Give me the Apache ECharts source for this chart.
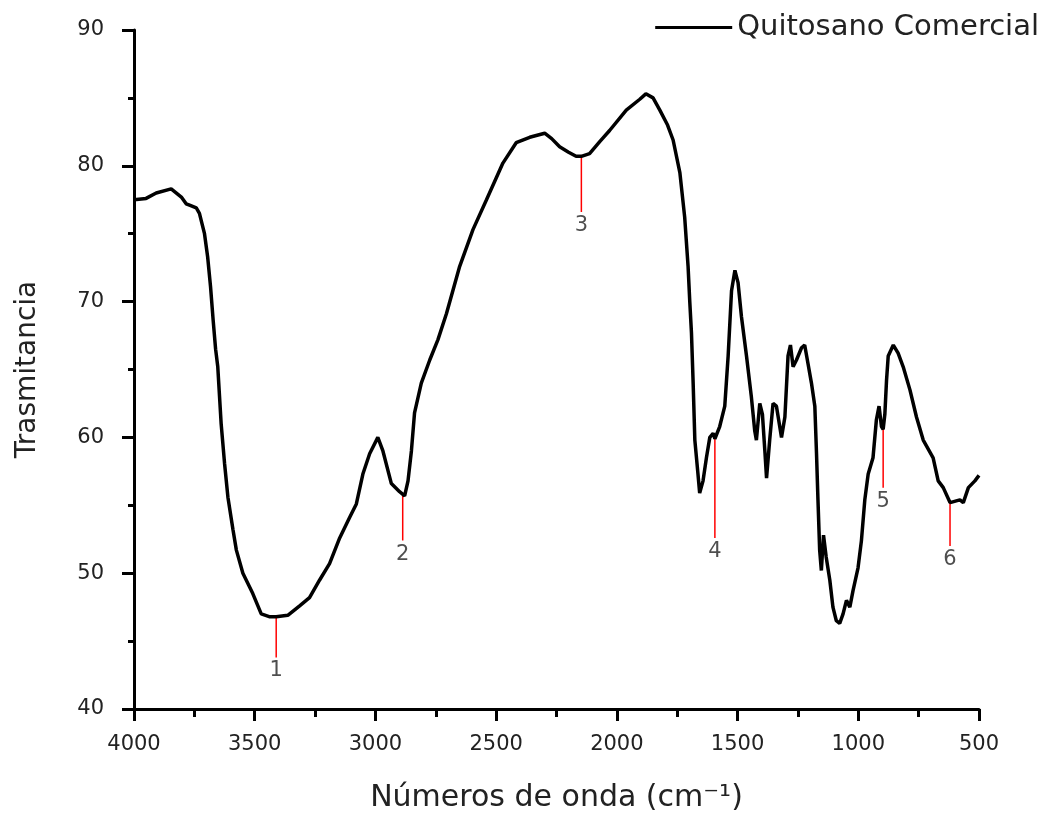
<!DOCTYPE html>
<html>
<head>
<meta charset="utf-8">
<script src="https://cdn.jsdelivr.net/npm/echarts@6/dist/echarts.min.js"></script>
<style>html,body{margin:0;padding:0;background:#fff}#c{width:1050px;height:820px}</style>
</head>
<body>
<div id="c"></div>
<script>
// Wavenumbers (cm^-1) and transmittance values
var waveNumbers = [4000,3950,3908,3846,3804,3784,3770,3742,3729,3708,3695,3683,3672,3662,3653,3639,3625,3611,3590,3576,3549,3508,3473,3440,3411,3363,3314,3273,3231,3190,3148,3107,3079,3052,3024,2990,2969,2934,2900,2879,2865,2851,2838,2810,2775,2741,2706,2651,2596,2540,2472,2417,2361,2299,2270,2237,2200,2169,2147,2113,2070,2030,1961,1905,1880,1850,1822,1790,1767,1739,1719,1705,1698,1691,1684,1677,1664,1657,1650,1643,1629,1615,1601,1594,1588,1574,1553,1539,1525,1511,1498,1484,1463,1443,1429,1422,1408,1397,1387,1380,1367,1353,1339,1318,1304,1291,1281,1270,1256,1235,1222,1208,1194,1180,1173,1167,1160,1153,1144,1133,1118,1105,1091,1077,1063,1049,1035,1022,1001,987,973,959,939,925,914,904,897,890,883,876,855,835,814,786,759,731,690,669,648,620,579,565,544,517,500];
var transmittance = [77.5,77.6,78.0,78.3,77.7,77.2,77.1,76.9,76.5,75.0,73.3,71.1,68.6,66.5,65.2,61.0,58.1,55.6,53.2,51.7,50.0,48.5,47.0,46.8,46.8,46.9,47.6,48.2,49.5,50.7,52.6,54.1,55.1,57.3,58.8,60.0,59.0,56.6,56.0,55.7,56.8,59.0,61.8,64.0,65.7,67.2,69.1,72.6,75.3,77.5,80.2,81.7,82.1,82.4,82.0,81.4,81.0,80.7,80.7,80.9,81.8,82.6,84.1,84.9,85.3,85.0,84.1,83.0,81.9,79.5,76.2,72.6,70.0,67.7,64.0,59.8,57.3,55.9,55.9,56.8,58.5,60.0,60.3,59.9,59.8,60.8,62.3,66.0,70.8,72.3,71.4,68.9,66.0,63.0,60.5,59.8,62.5,61.7,59.0,57.0,59.8,62.5,62.3,60.0,61.5,66.0,66.8,65.2,65.7,66.6,66.8,65.4,64.0,62.3,58.8,55.4,51.7,50.2,52.8,51.2,49.5,47.5,46.5,46.3,47.0,48.0,47.5,48.7,50.4,52.4,55.4,57.3,58.5,61.3,62.3,60.8,60.6,61.7,64.2,66.0,66.8,66.2,65.2,63.5,61.5,59.8,58.5,56.8,56.3,55.2,55.4,55.2,56.3,56.8,57.2];

// Band markers
var markerX = [3411, 2887, 2147, 1594, 897, 620];
var markerTop = [46.8, 55.7, 80.7, 59.9, 60.9, 55.2];
var markerBottom = [43.8, 52.4, 76.6, 52.6, 56.3, 52.0];
var markerLabels = ['1', '2', '3', '4', '5', '6'];

var seriesName = 'Quitosano Comercial';
var xTitle = 'Números de onda (cm⁻¹)';
var yTitle = 'Trasmitancia';

var FONT = 'DejaVu Sans';
var chart = echarts.init(document.getElementById('c'));

var curve = waveNumbers.map(function (w, i) { return [w, transmittance[i]]; });
var series = [{
  name: seriesName,
  type: 'line',
  data: curve,
  symbol: 'none',
  smooth: false,
  lineStyle: { color: '#000', width: 3.5 },
  itemStyle: { color: '#000' },
  z: 3
}];
markerX.forEach(function (x, i) {
  series.push({
    name: 'm' + i,
    type: 'line',
    data: [[x, markerTop[i]], [x, markerBottom[i]]],
    symbol: 'none',
    silent: true,
    lineStyle: { color: '#ff0000', width: 1.5 },
    z: 2
  });
});
series.push({
  name: 'labels',
  type: 'scatter',
  silent: true,
  symbolSize: 0,
  data: markerX.map(function (x, i) { return { value: [x, markerBottom[i]], name: markerLabels[i] }; }),
  label: {
    show: true,
    position: 'bottom',
    distance: 3,
    formatter: function (p) { return p.name; },
    fontFamily: FONT,
    fontSize: 21,
    color: '#222'
  }
});

chart.setOption({
  animation: false,
  backgroundColor: '#fff',
  grid: { left: 134, right: 71, top: 30, bottom: 111 },
  legend: {
    data: [{ name: seriesName, icon: 'rect' }],
    right: 6,
    top: 8,
    itemWidth: 77,
    itemHeight: 3,
    itemGap: 5,
    itemStyle: { color: '#000' },
    textStyle: { fontFamily: FONT, fontSize: 29, color: '#222' }
  },
  xAxis: {
    type: 'value',
    inverse: true,
    min: 500,
    max: 4000,
    interval: 500,
    name: xTitle,
    nameLocation: 'middle',
    nameGap: 74,
    nameTextStyle: { fontFamily: FONT, fontSize: 30, color: '#222' },
    axisLine: { lineStyle: { color: '#000', width: 3 } },
    axisTick: { length: 12, lineStyle: { color: '#000', width: 3 } },
    minorTick: { show: true, splitNumber: 2, length: 8, lineStyle: { color: '#000', width: 3 } },
    splitLine: { show: false },
    axisLabel: { margin: 25, fontFamily: FONT, fontSize: 21, color: '#222', formatter: function (v) { return String(v); } }
  },
  yAxis: {
    type: 'value',
    min: 40,
    max: 90,
    interval: 10,
    name: yTitle,
    nameLocation: 'middle',
    nameGap: 92,
    nameTextStyle: { fontFamily: FONT, fontSize: 28, color: '#222' },
    axisLine: { show: true, lineStyle: { color: '#000', width: 3 } },
    axisTick: { show: true, length: 12, lineStyle: { color: '#000', width: 3 } },
    minorTick: { show: true, splitNumber: 2, length: 6, lineStyle: { color: '#000', width: 3 } },
    splitLine: { show: false },
    axisLabel: { margin: 30, fontFamily: FONT, fontSize: 21, color: '#222', formatter: function (v) { return String(v); } }
  },
  series: series
});
</script>
</body>
</html>
